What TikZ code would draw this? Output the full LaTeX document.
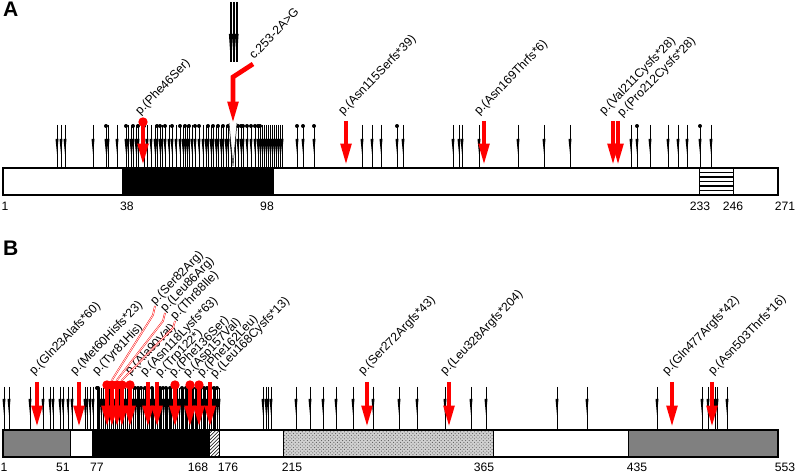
\documentclass[tikz,border=0pt]{standalone}
\usepackage{fontspec}
\setmainfont{Liberation Sans}
\usetikzlibrary{arrows.meta,patterns}

\tikzset{
  lbl/.style={font=\fontsize{10.4}{12}\selectfont, rotate=46, anchor=base west, inner sep=0pt},
  num/.style={font=\fontsize{10.4}{12}\selectfont, anchor=base, inner sep=0pt},
  panel/.style={font=\fontsize{18}{20}\selectfont\bfseries, anchor=north west, inner sep=0pt},
  needle/.style={black, line width=0.75pt},
  redarr/.style={red, line width=4pt, -{Triangle[width=8.5pt,length=19pt]}},
  leader/.style={red, line width=0.4pt, double=white, double distance=0.6pt},
  bar/.style={draw=black, line width=2.2pt},
  part/.style={draw=black, line width=0.8pt},
}

\begin{document}
\begin{tikzpicture}[x=0.3mm, y=-0.3mm]

  % Fix the page to the size of the figure
  \useasboundingbox (0,0) rectangle (796,474);

  % ---------------- Panel A ----------------
  \node[panel] (pa) at (3,2) {A};

  % Black needles (no dot)
  \foreach \x in {57,61,65,93,108,117,128,131,136,147,151,155,162,169,176,183,187,192,203,206,211,216,221,226,
                  231,235,262,264,266,268,270,272,274,276,278,280,282,362,372,381,403,453,459,462,479,518,544,570,631,650,668,678,687,711} {
    \draw[needle] (\x,125) -- (\x,167);
    \fill (\x-1.5,139) -- (\x+1.5,139) -- (\x,154) -- cycle;
  }

  % Black needles with a dot on top
  \foreach \x in {106,126,133,138,144,157,160,165,172,180,185,189,195,199,208,213,218,223,228,238,241,243,247,251,255,258,260,
                  297,303,314,397,637,700} {
    \draw[needle] (\x,126) -- (\x,167);
    \fill (\x-1.5,139) -- (\x+1.5,139) -- (\x,154) -- cycle;
    \fill (\x,126) circle[radius=1.7pt];
  }

  % Bundle of needles above the splice variant
  \foreach \x in {230,231.5,...,237.5} {
    \draw[needle, line width=0.5pt] (\x,2) -- (\x,62);
    \fill (\x-1.1,34) -- (\x+1.1,34) -- (\x,50) -- cycle;
  }

  % Open needle of the splice variant
  \filldraw[fill=white, draw=black, line width=0.4pt] (229,123) -- (233,166) -- (237,123);

  % Bar A
  \fill[white] (3,168) rectangle (778,195);
  \fill[black] (122,168) rectangle (274,195);
  \draw[part] (699,168) rectangle (733,195);
  \foreach \y in {172.5,177,181.5,186,190.5}
    \draw[line width=1pt] (699,\y) -- (733,\y);
  \draw[bar] (3,168) rectangle (778,195);

  % Red variants A
  \fill[red] (143,122) circle[radius=4pt];
  \draw[redarr] (143,122) -- (143,166);
  \foreach \x in {346,484,613,618}
    \draw[redarr] (\x,121) -- (\x,166);
  \coordinate (spl) at (233,124);
  \draw[redarr] (253,64) -- (233,77) -- (spl);

  % Labels A
  \node[lbl] (phe46) at (140,116) {p.(Phe46Ser)};
  \node[lbl] (c253) at (254,60) {c.253-2A>G};
  \node[lbl] (asn115) at (343,116) {p.(Asn115Serfs*39)};
  \node[lbl] (asn169) at (479,116) {p.(Asn169Thrfs*6)};
  \node[lbl] (val211) at (604,116) {p.(Val211Cysfs*28)};
  \node[lbl] (pro212) at (622,118) {p.(Pro212Cysfs*28)};

  % Positions A
  \node[num] (a1) at (5,211) {1};
  \node[num] (a38) at (127,211) {38};
  \node[num] (a98) at (267,211) {98};
  \node[num] (a233) at (700,211) {233};
  \node[num] (a246) at (733,211) {246};
  \node[num] (a271) at (785,211) {271};

  % ---------------- Panel B ----------------
  \node[panel] (pb) at (3,241) {B};

  % Black needles (no dot)
  \foreach \x in {4,9,30,43,50,53,60,63,68,72,85,87,90,93,263,266,268,271,296,310,323,336,353,373,
                  399,417,445,471,486,557,587,657,702,708,715,717,727} {
    \draw[needle] (\x,387) -- (\x,429);
    \fill (\x-1.5,399) -- (\x+1.5,399) -- (\x,415) -- cycle;
  }
  \foreach \x in {99,101,...,219} {
    \draw[needle] (\x,388) -- (\x,429);
    \fill (\x-1.5,399) -- (\x+1.5,399) -- (\x,415) -- cycle;
  }

  % Black needles with a dot on top
  \foreach \x in {97,98,135,138,141,145,152,160,163,166,170,182,186,192,196,204,207,211,214,217} {
    \draw[needle] (\x,388) -- (\x,429);
    \fill (\x,388) circle[radius=1.7pt];
  }

  % Bar B
  \draw[part, fill=black!50] (3,430) rectangle (70,457);
  \draw[part, fill=white] (70,430) rectangle (92,457);
  \draw[part, fill=black] (92,430) rectangle (209,457);
  \draw[part, fill=white] (209,430) rectangle (219,457);
  \fill[pattern=north east lines] (209,430) rectangle (219,457);
  \draw[part, fill=white] (219,430) rectangle (283,457);
  \fill[black!18] (283,430) rectangle (493,457);
  \fill[pattern=crosshatch dots, pattern color=black!65] (283,430) rectangle (493,457);
  \draw[part] (283,430) rectangle (493,457);
  \draw[part, fill=white] (493,430) rectangle (628,457);
  \draw[part, fill=black!50] (628,430) rectangle (778,457);
  \draw[bar] (3,430) rectangle (778,457);

  % Red variants B
  \foreach \x in {37,79,148,157,210,367,449,672,712}
    \draw[redarr] (\x,382) -- (\x,428);
  \foreach \x in {107,112,117,122,130,175,190,199} {
    \fill[red] (\x,385) circle[radius=4pt];
    \draw[redarr] (\x,385) -- (\x,428);
  }

  % Labels B
  \node[lbl] (gln23) at (34,376) {p.(Gln23Alafs*60)};
  \node[lbl] (met60) at (75,376) {p.(Met60Hisfs*23)};
  \node[lbl] (tyr81) at (97,376) {p.(Tyr81His)};
  \node[lbl] (ser82) at (155,306) {p.(Ser82Arg)};
  \node[lbl] (leu86) at (165,313) {p.(Leu86Arg)};
  \node[lbl] (thr88) at (175,321) {p.(Thr88Ile)};
  \node[lbl] (ala90) at (130,376) {p.(Ala90Val)};
  \node[lbl] (asn118) at (145,377) {p.(Asn118Lysfs*63)};
  \node[lbl] (trp122) at (160,378) {p.(Trp122*)};
  \node[lbl] (phe136) at (174,378) {p.(Phe136Ser)};
  \node[lbl] (asp157) at (188,378) {p.(Asp157Val)};
  \node[lbl] (phe162) at (202,378) {p.(Phe162Leu)};
  \node[lbl] (leu168) at (215,379) {p.(Leu168Cysfs*13)};
  \node[lbl] (ser272) at (363,376) {p.(Ser272Argfs*43)};
  \node[lbl] (leu328) at (445,376) {p.(Leu328Argfs*204)};
  \node[lbl] (gln477) at (667,376) {p.(Gln477Argfs*42)};
  \node[lbl] (asn503) at (713,376) {p.(Asn503Thrfs*16)};

  % Leader lines to the crowded variants
  \coordinate (s82) at (112,380);
  \coordinate (l86) at (117,380);
  \coordinate (t88) at (122,380);
  \draw[leader] (ser82.base west) -- ++(-2,9) -- (s82);
  \draw[leader] (leu86.base west) -- ++(-2,8) -- (l86);
  \draw[leader] (thr88.base west) -- ++(-2,7) -- (t88);

  % Positions B
  \node[num] (b1) at (4,471) {1};
  \node[num] (b51) at (63,471) {51};
  \node[num] (b77) at (97,471) {77};
  \node[num] (b168) at (198,471) {168};
  \node[num] (b176) at (228,471) {176};
  \node[num] (b215) at (292,471) {215};
  \node[num] (b365) at (484,471) {365};
  \node[num] (b435) at (637,471) {435};
  \node[num] (b553) at (785,471) {553};

\end{tikzpicture}
\end{document}
